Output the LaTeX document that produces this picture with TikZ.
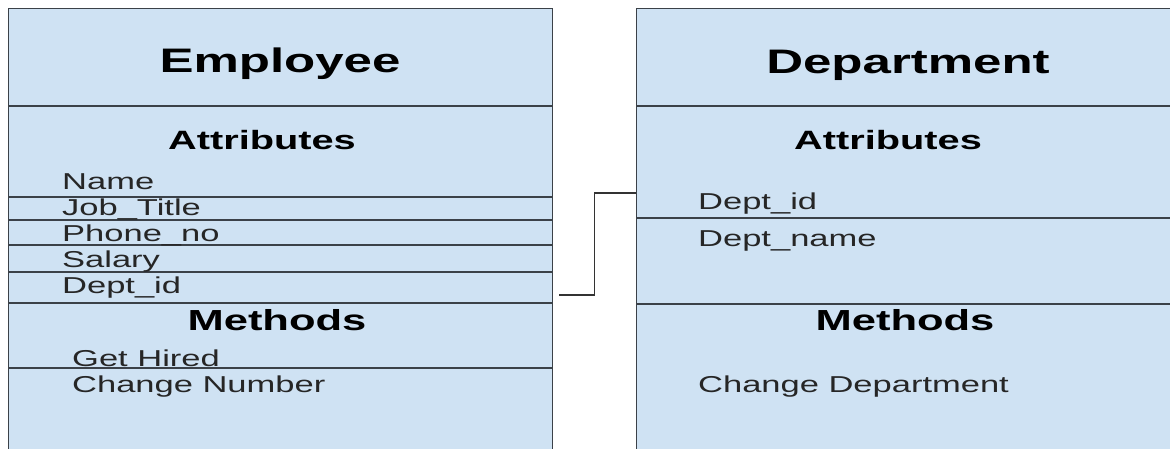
\documentclass[tikz,border=0pt]{standalone}
\usepackage{fontspec}
\usepackage{xcolor}
\newfontfamily\umlfont[FakeStretch=1.5]{Liberation Sans}

\begin{document}
\begin{tikzpicture}[x=1pt,y=-1pt]
% Colors
\definecolor{boxfill}{HTML}{CFE2F3}
\definecolor{rulecolor}{HTML}{3B4148}
% Styles
\tikzstyle{class box}=[draw=rulecolor,fill=boxfill,line width=1.4pt,anchor=north west,inner sep=0pt,minimum width=544pt,minimum height=460pt]
\tikzstyle{divider}=[draw=rulecolor,line width=1.3pt]
\tikzstyle{class name}=[anchor=base,inner sep=0pt,font=\umlfont\bfseries\fontsize{34}{40}\selectfont]
\tikzstyle{section name}=[anchor=base,inner sep=0pt,font=\umlfont\bfseries\fontsize{26.5}{31}\selectfont]
\tikzstyle{methods name}=[anchor=base,inner sep=0pt,font=\umlfont\bfseries\fontsize{29}{34}\selectfont]
\tikzstyle{member}=[anchor=base west,inner sep=0pt,text=black!85,font=\umlfont\fontsize{23}{27}\selectfont]
\tikzstyle{link}=[draw=black!80,line width=1.1pt]
% The graphic
\useasboundingbox (0,0) rectangle (1170,448);
\clip (0,0) rectangle (1170,448);
\fill[white] (0,0) rectangle (1170,448);
\node[class box] (emp) at (8,8) {};
\node[class box] (dept) at (636,8) {};
% dividers
\foreach \y in {106,197,220,245,272,303,368}
\draw[divider] (emp.west |- 0,\y) -- (emp.east |- 0,\y);
\foreach \y in {106,218,304}
\draw[divider] (dept.west |- 0,\y) -- (dept.east |- 0,\y);
% Employee
\node[class name] (empname) at (280,72) {Employee};
\node[section name] (empattr) at (262,149) {Attributes};
\foreach \n/\t/\y in {name/Name/189, job/Job\_Title/215, phone/Phone\_no/241, salary/Salary/267, deptid/Dept\_id/293}
\node[member] (emp\n) at (62,\y) {\t};
\node[methods name] (empmeth) at (277,330) {Methods};
\node[member] (emphired) at (72,366) {Get Hired};
\node[member] (empnumber) at (72,392) {Change Number};
% Department
\node[class name] (deptname) at (908,73) {Department};
\node[section name] (deptattr) at (888,149) {Attributes};
\node[member] (deptid) at (698,209) {Dept\_id};
\node[member] (deptlabel) at (698,246) {Dept\_name};
\node[methods name] (deptmeth) at (905,330) {Methods};
\node[member] (deptchange) at (698,392) {Change Department};
% key link
\coordinate (fk) at ([xshift=6pt]emp.east |- 0,295);
\coordinate (pk) at (dept.west |- 0,193);
\draw[link] (fk) -- ++(35,0) |- (pk);
\end{tikzpicture}
\end{document}
